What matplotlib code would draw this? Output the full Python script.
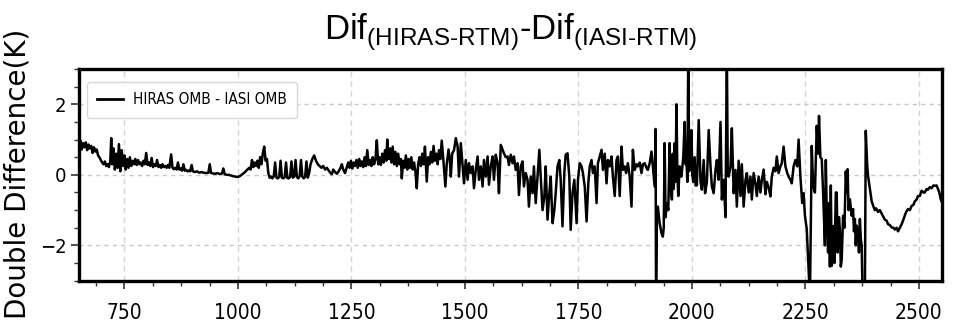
import numpy as np
import matplotlib
matplotlib.use("Agg")
import matplotlib.pyplot as plt
from matplotlib.ticker import AutoMinorLocator
from matplotlib.font_manager import FontProperties

# HIRAS OMB - IASI OMB double difference
wn_a = [650, 653, 656, 659, 662, 665, 668, 671, 674, 677, 680, 683, 686, 689, 692, 695, 698, 701, 704, 707,
        710, 713, 716, 719, 721, 723, 726, 729, 732, 735, 738, 741, 744, 747, 750, 753, 756, 759, 762, 765,
        768, 771, 774, 777, 780, 783, 786, 789, 792, 795, 798, 801, 804, 807, 810, 813, 816, 819, 822, 825,
        828, 831, 834, 837, 840, 843, 846, 849, 853, 856, 859, 862, 865, 868, 871, 874, 877, 880, 883, 886,
        889, 892, 895, 898, 901, 905, 910, 915, 920, 925, 930, 935, 938, 941, 945, 950, 955, 960, 965, 968,
        971, 975, 980, 985, 990, 995, 1000]
dd_a = [0.85, 0.98, 0.72, 0.9, 0.78, 0.92, 0.7, 0.86, 0.75, 0.82, 0.62, 0.78, 0.66, 0.72, 0.55, 0.5, 0.42, 0.35, 0.3, 0.38,
        0.25, 0.3, 0.22, 0.4, 1.04, 0.3, 0.75, 0.15, 0.6, 0.2, 0.87, 0.1, 0.7, 0.25, 0.55, 0.15, 0.45, 0.2, 0.5, 0.25,
        0.4, 0.3, 0.45, 0.28, 0.42, 0.3, 0.35, 0.25, 0.4, 0.3, 0.62, 0.28, 0.35, 0.25, 0.48, 0.22, 0.3, 0.25, 0.42, 0.22,
        0.28, 0.2, 0.3, 0.22, 0.25, 0.2, 0.28, 0.2, 0.58, 0.2, 0.16, 0.2, 0.15, 0.35, 0.15, 0.18, 0.12, 0.3, 0.12, 0.14,
        0.1, 0.12, 0.1, 0.28, 0.1, 0.08, 0.1, 0.06, 0.08, 0.06, 0.05, 0.06, 0.3, 0.05, 0.04, 0.03, 0.05, 0.02, 0.04, 0.18,
        0.02, 0.0, 0.0, -0.02, -0.04, -0.05, -0.06]

wn_b = [1005, 1010, 1015, 1020, 1025, 1028, 1031, 1034, 1037, 1040, 1043, 1046, 1049, 1052, 1055, 1058, 1061, 1064,
        1067, 1070, 1073, 1076, 1079, 1082, 1085, 1088, 1091, 1094, 1097, 1100, 1103, 1106, 1109, 1112, 1115, 1118,
        1121, 1124, 1127, 1130, 1133, 1136, 1139, 1142, 1145, 1148, 1151, 1154, 1157, 1160, 1164, 1168, 1172, 1176,
        1180, 1184, 1188, 1192, 1196]
dd_b = [-0.03, 0.02, 0.07, 0.14, 0.2, 0.15, 0.42, 0.22, 0.35, 0.25, 0.4, 0.2, 0.5, 0.3, 0.62, 0.8, 0.4, 0.45,
        0.05, -0.08, -0.05, -0.1, -0.04, 0.35, -0.08, -0.1, -0.06, 0.4, -0.08, -0.1, -0.07, 0.35, -0.09, -0.1, -0.06, 0.38,
        -0.08, -0.05, 0.42, -0.06, -0.1, -0.04, 0.42, -0.05, -0.1, -0.06, 0.38, -0.08, 0.05, 0.3, 0.45, 0.55, 0.4, 0.3,
        0.25, 0.2, 0.25, 0.15, 0.2]

wn_c = [1200, 1204, 1207, 1210, 1214, 1218, 1222, 1226, 1229, 1232, 1236, 1240, 1243, 1246, 1249, 1252, 1255, 1258,
        1261, 1264, 1267, 1270, 1273, 1276, 1279, 1282, 1285, 1288, 1291, 1294, 1297, 1300, 1303, 1306, 1309, 1312,
        1315, 1318, 1321, 1324, 1327, 1329, 1332, 1335, 1338, 1341, 1344, 1347, 1350, 1353, 1356, 1359, 1361, 1364,
        1367, 1370, 1373, 1376, 1379, 1382, 1385, 1388, 1391, 1394, 1397, 1400, 1403, 1406, 1409, 1412, 1416, 1419,
        1422, 1425, 1428, 1431, 1434, 1437, 1440, 1443, 1446, 1449, 1453, 1457, 1460, 1464, 1467]
dd_c = [0.12, 0.05, 0.02, 0.15, 0.08, 0.03, 0.1, 0.2, 0.3, 0.15, 0.05, 0.22, 0.35, 0.2, 0.4, 0.18, 0.35, 0.25,
        0.42, 0.2, 0.45, 0.25, 0.38, 0.22, 0.5, 0.25, 0.7, 0.28, 0.42, 0.25, 0.5, 0.3, 0.45, 0.98, 0.3, 0.5,
        0.28, 0.6, 0.35, 0.7, 0.4, 1.0, 0.45, 0.75, 0.35, 0.8, 0.3, 0.65, 0.25, 0.6, 0.3, 0.45, -0.1, 0.4,
        0.2, 0.55, 0.15, 0.45, 0.2, 0.5, 0.15, 0.35, 0.1, -0.38, 0.3, 0.5, 0.25, 0.6, 0.3, 0.8, -0.19, 0.5,
        0.3, 0.65, 0.35, 0.82, 0.4, 0.6, 0.3, 0.7, 0.45, 0.97, 0.35, -0.33, 0.3, 0.72, 0.4]

wn_d = [1469, 1472, 1476, 1480, 1484, 1487, 1491, 1495, 1498, 1502, 1506, 1509, 1513, 1517, 1520, 1524, 1528, 1531,
        1535, 1539, 1542, 1546, 1550, 1553, 1557, 1561, 1564, 1568, 1572, 1575, 1579, 1583, 1586, 1590, 1594, 1597,
        1601, 1605, 1608, 1612, 1616, 1619, 1623, 1627, 1630, 1634, 1638, 1641, 1645, 1649, 1652, 1656, 1660, 1664,
        1667, 1671, 1675, 1678, 1682, 1686, 1689, 1693, 1697, 1700, 1704, 1708, 1711, 1715, 1719, 1722, 1726, 1730,
        1733, 1737, 1741]
dd_d = [-0.05, 0.6, 0.7, 1.04, 0.8, -0.05, 0.9, 0.24, -0.24, 0.42, -0.14, 0.33, 0.05, 0.24, -0.38, 0.14, 0.52, -0.14,
        0.24, -0.33, 0.42, -0.05, 0.52, -0.28, 0.24, 0.52, -0.14, 0.57, 0.33, -0.52, 0.85, 0.71, 0.61, 0.5, 0.52, 0.28,
        0.57, 0.33, 0.52, 0.14, 0.33, -0.57, 0.24, 0.38, -0.33, 0.05, -0.14, -0.9, -0.05, -0.52, 0.24, -0.8, -0.05, 0.71,
        -0.05, -1.0, -0.62, 0.24, -1.27, -0.52, -0.05, -1.37, -1.0, -0.52, 0.24, 0.42, -0.14, -1.46, 0.05, 0.57, 0.61, -0.05,
        -1.56, -0.52, -0.14]

wn_e = [1746, 1749, 1753, 1757, 1760, 1764, 1768, 1772, 1775, 1779, 1782, 1786, 1790, 1793, 1797, 1801, 1804, 1808,
        1812, 1815, 1819, 1823, 1826, 1830, 1834, 1837, 1841, 1845, 1848, 1852, 1855, 1859, 1863, 1867, 1870, 1874,
        1878, 1881, 1885, 1889, 1892, 1896, 1900, 1903, 1907, 1911, 1914, 1918]
dd_e = [-1.37, -0.14, 0.33, 0.24, 0.05, -0.33, -1.32, -0.2, 0.24, 0.42, 0.05, 0.24, -0.8, 0.33, 0.52, 0.71, 0.14, 0.6,
        -0.24, 0.42, 0.24, 0.52, -0.05, -0.6, 0.42, 0.52, -0.6, 0.8, 0.14, 0.24, 0.05, 0.33, -0.05, -0.9, 0.71, 0.14,
        0.3, 0.24, 0.35, 0.05, 0.3, 0.33, 0.2, 0.14, 0.33, 0.66, 0.24, -0.33]

wn_f = [1920, 1921, 1923, 1925, 1929, 1933, 1936, 1938, 1940, 1942, 1945, 1948, 1951, 1953, 1956, 1958, 1960, 1962,
        1964, 1966, 1968, 1970, 1973, 1977, 1981, 1984, 1986, 1988, 1990, 1992, 1994, 1997, 1999, 2001, 2003, 2006,
        2008, 2011, 2015, 2019, 2022, 2026, 2029, 2033, 2037, 2041, 2044, 2048, 2052, 2055, 2059, 2063, 2066, 2070,
        2074]
dd_f = [1.3, -3.5, -1.2, -0.9, -1.37, -1.65, -1.75, -1.5, 0.9, -1.2, -0.8, -1.0, 0.9, -0.3, -0.7, 0.6, -0.4, 0.9,
        -0.2, 2.0, 0.0, -0.6, 0.24, -0.05, 0.5, 1.5, 0.3, 0.4, -0.2, 3.5, 0.1, 0.6, 1.27, 0.0, -0.2, 0.5,
        -0.3, -0.3, 1.55, -0.2, -0.42, 0.42, -0.52, -0.2, 1.27, 0.24, -0.33, -0.52, 0.14, 0.42, -0.14, 1.5, -0.7, -0.14,
        -1.2]

wn_g = [2077, 2079, 2081, 2085, 2088, 2092, 2096, 2099, 2103, 2107, 2110, 2114, 2118, 2121, 2125, 2129, 2132, 2136,
        2140, 2143, 2147, 2151, 2154, 2158, 2162, 2165, 2169, 2173, 2176, 2180, 2184, 2187, 2191, 2195, 2198, 2202,
        2206, 2210, 2213, 2217, 2220, 2224, 2228, 2232, 2235, 2239, 2243, 2246, 2249, 2253, 2256, 2260]
dd_g = [3.5, 0.0, -0.05, 0.24, 1.32, -0.52, 0.14, -0.9, 0.4, -0.6, 0.3, -0.9, -0.15, 0.05, -0.5, -0.05, -0.7, 0.05,
        -0.25, -0.6, -0.05, -0.5, -0.15, 0.15, -0.55, -0.2, -0.35, -0.61, -0.05, 0.2, 0.1, 0.52, 0.05, 0.24, 0.33, 0.8,
        0.24, 0.05, -0.05, -0.14, -0.24, 0.24, 0.42, 0.24, 1.0, -0.05, -0.8, -0.52, -1.16, -1.54, -2.4, -3.5]

wn_h = [2264, 2267, 2271, 2275, 2278, 2280, 2283, 2286, 2289, 2293, 2295, 2297, 2300, 2302, 2304, 2306, 2308, 2311,
        2314, 2317, 2319, 2321, 2324, 2326, 2328, 2330, 2333, 2336, 2339, 2341, 2343, 2345, 2348, 2352, 2355, 2357,
        2359, 2361, 2363, 2366, 2368, 2370, 2372, 2374, 2376, 2381]
dd_h = [0.82, -0.3, -0.5, 1.39, 0.6, 1.67, 0.5, 0.45, -0.5, -2.0, 0.42, -1.07, -2.2, -0.8, -2.6, -0.3, -2.58, -1.45,
        -2.5, -0.5, -0.5, -2.2, -1.2, -1.6, -2.6, -2.4, -1.16, -1.5, 0.1, -0.5, 0.16, -1.0, -0.69, -1.16, -0.97, -1.6,
        -1.25, -2.0, -1.44, -1.63, -2.2, -1.25, -1.8, -2.0, -3.5, -3.5]

wn_i = [2383, 2386, 2388, 2392, 2396, 2400, 2403, 2406, 2410, 2414, 2418, 2422, 2425, 2429, 2432, 2436, 2440, 2444,
        2447, 2451, 2454, 2458, 2462, 2465, 2469, 2472, 2476, 2480, 2484, 2488, 2491, 2495, 2498, 2502, 2506, 2510,
        2513, 2517, 2520, 2524, 2528, 2532, 2535, 2539, 2542, 2545, 2548, 2550]
dd_i = [1.25, 0.3, -0.03, -0.4, -0.75, -0.9, -1.0, -0.95, -1.05, -1.0, -1.1, -1.2, -1.27, -1.3, -1.4, -1.42, -1.49, -1.5,
        -1.55, -1.5, -1.6, -1.5, -1.4, -1.3, -1.15, -1.05, -0.97, -1.0, -0.88, -0.85, -0.75, -0.7, -0.6, -0.6, -0.45, -0.5,
        -0.5, -0.4, -0.42, -0.35, -0.38, -0.3, -0.31, -0.3, -0.4, -0.5, -0.69, -0.75]

xticks = [750, 1000, 1250, 1500, 1750, 2000, 2250, 2500]
yticks = [-2, 0, 2]

wn = np.array(wn_a + wn_b + wn_c + wn_d + wn_e + wn_f + wn_g + wn_h + wn_i)
dd = np.array(dd_a + dd_b + dd_c + dd_d + dd_e + dd_f + dd_g + dd_h + dd_i)

plt.rcParams['mathtext.fontset'] = 'custom'
plt.rcParams['mathtext.rm'] = 'Liberation Sans'

# squeezed look of the tick / legend text
tick_fp = FontProperties(family='DejaVu Sans', stretch='condensed', size=15)
ytick_fp = FontProperties(family='DejaVu Sans', stretch='condensed', size=14.5)
leg_fp = FontProperties(family='DejaVu Sans', stretch='condensed', size=11)

fig = plt.figure(figsize=(9.54, 3.25), dpi=100)
ax = fig.add_axes([0.0828, 0.1363, 0.9042, 0.6514])

ax.plot(wn, dd, color='black', lw=1.8, label='HIRAS OMB - IASI OMB')

ax.set_xlim(650, 2550)
ax.set_ylim(-3, 3)
ax.set_xticks(xticks)
ax.set_yticks(yticks)
ax.xaxis.set_minor_locator(AutoMinorLocator(4))
ax.yaxis.set_minor_locator(AutoMinorLocator(4))
ax.tick_params(which='major', direction='out', length=6, width=1.2, color='#333333')
ax.tick_params(which='minor', direction='out', length=3.5, width=1.0, color='#333333')
ax.tick_params(axis='x', pad=10)
ax.tick_params(axis='y', pad=3)
for lab in ax.get_xticklabels():
    lab.set_fontproperties(tick_fp)
for lab in ax.get_yticklabels():
    lab.set_fontproperties(ytick_fp)

ax.grid(True, which='major', axis='y', color='#c8c8c8', linestyle=(0, (3, 3)), lw=1.0)
ax.grid(True, which='major', axis='x', color='#d4d4d4', linestyle=(0, (4, 3)), lw=1.0)
for sp in ax.spines.values():
    sp.set_linewidth(2.4)
    sp.set_color('black')

leg = ax.legend(loc='upper left', bbox_to_anchor=(0.009, 0.94), borderaxespad=0,
                prop=leg_fp, handlelength=1.7, handletextpad=0.6,
                borderpad=0.7, fancybox=True, framealpha=0.95, edgecolor='#d6d6d6')
leg.get_lines()[0].set_linewidth(2.0)

fig.text(0.0183, 0.466, 'Double Difference(K)', rotation=90, ha='center', va='center',
         fontsize=20, family='DejaVu Sans')
fig.text(0.535, 0.877, r'Dif$_{\text{(HIRAS-RTM)}}$-Dif$_{\text{(IASI-RTM)}}$',
         ha='center', va='baseline', fontsize=25, family='Liberation Sans')

fig.savefig('out.png', dpi=100, facecolor='white')
